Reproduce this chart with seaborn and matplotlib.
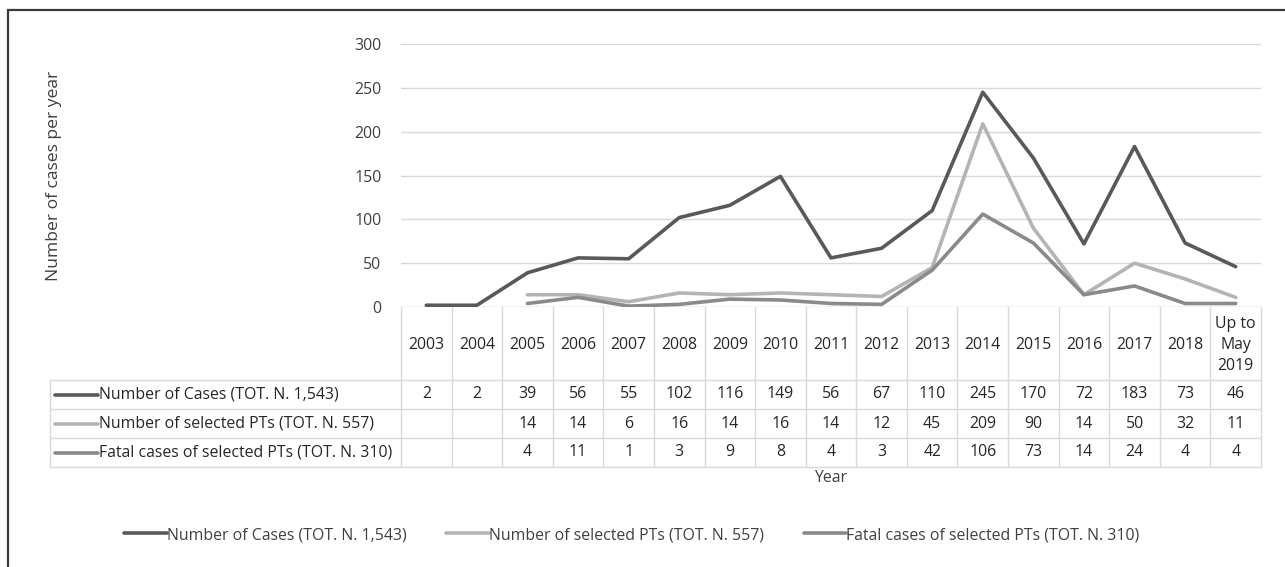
import numpy as np
import pandas as pd
import matplotlib
matplotlib.use("Agg")
import matplotlib.pyplot as plt
import matplotlib.transforms as mtransforms
from matplotlib.lines import Line2D
from matplotlib.patches import Rectangle
import seaborn as sns

# ---------------- data ----------------
years = ["2003", "2004", "2005", "2006", "2007", "2008", "2009", "2010", "2011",
         "2012", "2013", "2014", "2015", "2016", "2017", "2018", "Up to\nMay\n2019"]
cases = [2, 2, 39, 56, 55, 102, 116, 149, 56, 67, 110, 245, 170, 72, 183, 73, 46]
selected_pts = [None, None, 14, 14, 6, 16, 14, 16, 14, 12, 45, 209, 90, 14, 50, 32, 11]
fatal_pts = [None, None, 4, 11, 1, 3, 9, 8, 4, 3, 42, 106, 73, 14, 24, 4, 4]
series_names = ["Number of Cases (TOT. N. 1,543)",
                "Number of selected PTs (TOT. N. 557)",
                "Fatal cases of selected PTs (TOT. N. 310)"]
yticks = [0, 50, 100, 150, 200, 250, 300]

colors = ["#595959", "#b4b4b4", "#8a8a8a"]
series_values = [cases, selected_pts, fatal_pts]

sns.set_theme(style="white")
plt.rcParams["font.family"] = ["Open Sans", "DejaVu Sans"]
FS = 11.4

W, H = 1285, 567
fig = plt.figure(figsize=(W / 100, H / 100), dpi=100)

def px(x0, y0, x1, y1):
    return [x0 / W, 1 - y1 / H, (x1 - x0) / W, (y1 - y0) / H]

ax = fig.add_axes(px(401, 44, 1261, 307))

idx = np.arange(len(years))
rows = []
for name, vals in zip(series_names, series_values):
    for i, v in zip(idx, vals):
        rows.append({"x": i, "value": np.nan if v is None else v, "series": name})
df = pd.DataFrame(rows)

for name, col in zip(series_names, colors):
    sub = df[df["series"] == name]
    sns.lineplot(data=sub, x="x", y="value", ax=ax, color=col, lw=2.6,
                 legend=False, sort=False, zorder=3)

ax.set_xlim(-0.5, len(years) - 0.5)
ax.set_ylim(0, 300)
ax.set_yticks(yticks)
ax.set_yticklabels([str(t) for t in yticks], fontsize=FS, color="#404040")
ax.tick_params(axis="y", length=0, pad=14)
ax.set_xticks([])
ax.set_xlabel("")
ax.set_ylabel("Number of cases per year", fontsize=12.6, color="#404040")
ax.yaxis.set_label_coords((62 - 401) / 860, 0.5)
ax.grid(axis="y", color="#d9d9d9", lw=1.0)
ax.grid(axis="x", visible=False)
for s in ax.spines.values():
    s.set_visible(False)
ax.axhline(0, color="#d9d9d9", lw=1.0, zorder=1)

# ---------------- data table ----------------
trans = mtransforms.blended_transform_factory(ax.transData, ax.transAxes)
def ay(ypix):
    return (307 - ypix) / 263.0
gc = "#d9d9d9"
n = len(years)
for k in range(n + 1):
    xb = k - 0.5
    ax.add_line(Line2D([xb, xb], [ay(307), ay(467)], transform=trans, color=gc,
                       lw=1.0, clip_on=False))
lab_left = (50 - 401) / 860.0
for yp in [380, 409, 438, 467]:
    ax.add_line(Line2D([lab_left, 1.0], [ay(yp), ay(yp)], transform=ax.transAxes,
                       color=gc, lw=1.0, clip_on=False))
ax.add_line(Line2D([lab_left, lab_left], [ay(380), ay(467)], transform=ax.transAxes,
                   color=gc, lw=1.0, clip_on=False))
for i, y in enumerate(years):
    ax.text(i, ay(345), y, transform=trans, ha="center", va="center",
            fontsize=FS, color="#262626", linespacing=1.4, clip_on=False)
row_centers = [394.5, 423.5, 452.5]
key_x0 = (55 - 401) / 860.0
key_x1 = (98 - 401) / 860.0
for r, (name, vals, col) in enumerate(zip(series_names, series_values, colors)):
    yc = ay(row_centers[r])
    ax.add_line(Line2D([key_x0, key_x1], [yc, yc], transform=ax.transAxes,
                       color=col, lw=2.6, clip_on=False, solid_capstyle="round"))
    ax.text(key_x1 + 0.001, yc, name, transform=ax.transAxes, ha="left", va="center",
            fontsize=FS, color="#262626", clip_on=False)
    for i, v in enumerate(vals):
        if v is None:
            continue
        ax.text(i, yc, str(v), transform=trans, ha="center", va="center",
                fontsize=FS, color="#262626", clip_on=False)

ax.text(0.5, ay(478), "Year", transform=ax.transAxes, ha="center", va="center",
        fontsize=FS, color="#404040", clip_on=False)

# ---------------- legend ----------------
handles = [Line2D([0], [0], color=c, lw=2.6) for c in colors]
fig.legend(handles, series_names, loc="center", ncol=3,
           bbox_to_anchor=(632 / W, 1 - 535 / H), frameon=False,
           fontsize=FS, handlelength=2.7, handletextpad=0.0, columnspacing=2.5,
           labelcolor="#404040")

# ---------------- outer frame ----------------
fig.patches.append(Rectangle((8 / W, -0.01), 1.05, 1 - 10 / H + 0.01,
                             transform=fig.transFigure, fill=False,
                             edgecolor="#3a3a3a", lw=1.6, zorder=0))

fig.savefig("out.png", dpi=100, facecolor="white")
